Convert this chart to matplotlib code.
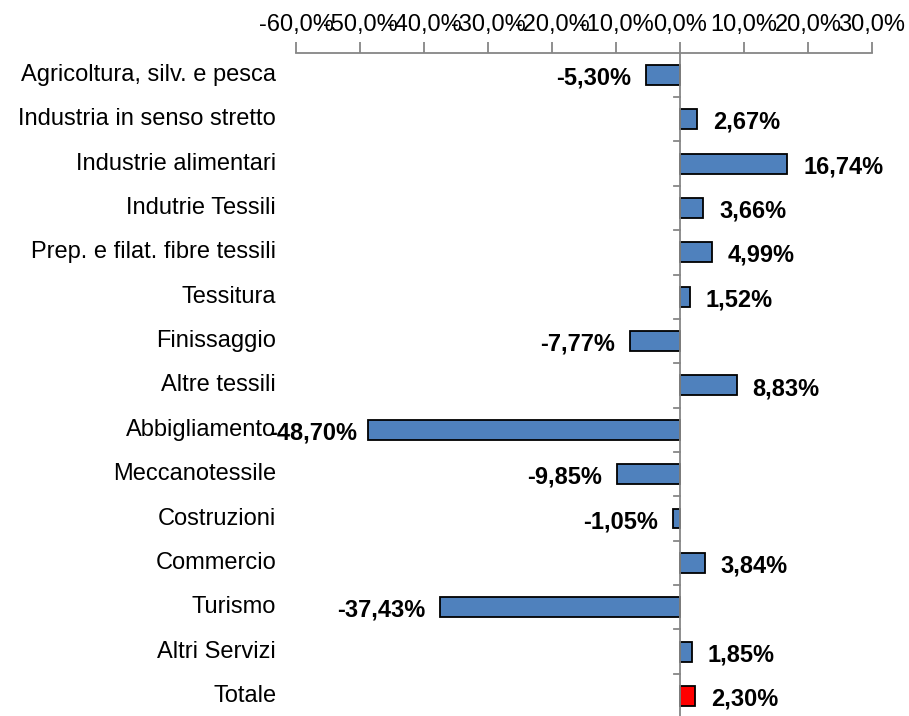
import matplotlib
matplotlib.use("Agg")
import matplotlib.pyplot as plt
from matplotlib.ticker import FuncFormatter, FixedLocator

plt.rcParams['font.family'] = ['Liberation Sans', 'DejaVu Sans']

categories = ["Agricoltura, silv. e pesca", "Industria in senso stretto",
              "Industrie alimentari", "Indutrie Tessili",
              "Prep. e filat. fibre tessili", "Tessitura", "Finissaggio",
              "Altre tessili", "Abbigliamento", "Meccanotessile",
              "Costruzioni", "Commercio", "Turismo", "Altri Servizi", "Totale"]
values = [-5.30, 2.67, 16.74, 3.66, 4.99, 1.52, -7.77, 8.83, -48.70,
          -9.85, -1.05, 3.84, -37.43, 1.85, 2.30]
x_ticks = [-60, -50, -40, -30, -20, -10, 0, 10, 20, 30]

blue = "#4F81BD"
red = "#FF0000"
axis_gray = "#868686"
fs = 17

fig = plt.figure(figsize=(9.09, 7.16), dpi=100)
ax = fig.add_axes([0.3256, -0.003, 0.6337, 0.9294])

ypos = list(range(len(categories)))
colors = [blue] * (len(categories) - 1) + [red]
ax.barh(ypos, values, height=0.45, color=colors, edgecolor="black",
        linewidth=1.3, zorder=2)

ax.set_xlim(-60, 30)
ax.set_ylim(len(categories) - 0.5, -0.5)

# value labels
labels = []
for y, v in zip(ypos, values):
    txt = f"{v:.2f}%".replace(".", ",")
    if v >= 0:
        t = ax.text(v + 2.5, y + 0.07, txt, ha="left", va="center",
                    fontsize=fs, fontweight="bold")
    else:
        t = ax.text(v - 2.4, y + 0.07, txt, ha="right", va="center",
                    fontsize=fs, fontweight="bold")
    labels.append((t, v))

# category labels on the left side
for y, c in zip(ypos, categories):
    ax.text(-63.1, y, c, ha="right", va="center", fontsize=fs)

# top x axis
ax.xaxis.tick_top()
ax.xaxis.set_major_locator(FixedLocator(x_ticks))
ax.xaxis.set_major_formatter(FuncFormatter(lambda v, p: f"{v:.1f}%".replace(".", ",")))
ax.tick_params(axis="x", direction="out", length=8, width=1.3,
               color=axis_gray, pad=4, labelsize=fs)
ax.set_yticks([])

for s in ["left", "right", "bottom"]:
    ax.spines[s].set_visible(False)
ax.spines["top"].set_color(axis_gray)
ax.spines["top"].set_linewidth(1.3)

# vertical category axis at zero with tick marks between categories
ax.axvline(0, color=axis_gray, linewidth=1.3, zorder=3)
for b in range(1, len(categories)):
    ax.plot([-0.95, 0], [b - 0.5, b - 0.5], color=axis_gray,
            linewidth=1.3, zorder=3, clip_on=False)

# keep negative labels from running too far past the plot area (like Excel)
fig.canvas.draw()
renderer = fig.canvas.get_renderer()
left_px = ax.transData.transform((-60, 0))[0] - 27
for t, v in labels:
    bb = t.get_window_extent(renderer)
    if v < 0 and bb.x0 < left_px:
        shift = left_px - bb.x0
        x_px = ax.transData.transform((t.get_position()[0], 0))[0] + shift
        t.set_x(ax.transData.inverted().transform((x_px, 0))[0])

fig.savefig("out.png", dpi=100)
